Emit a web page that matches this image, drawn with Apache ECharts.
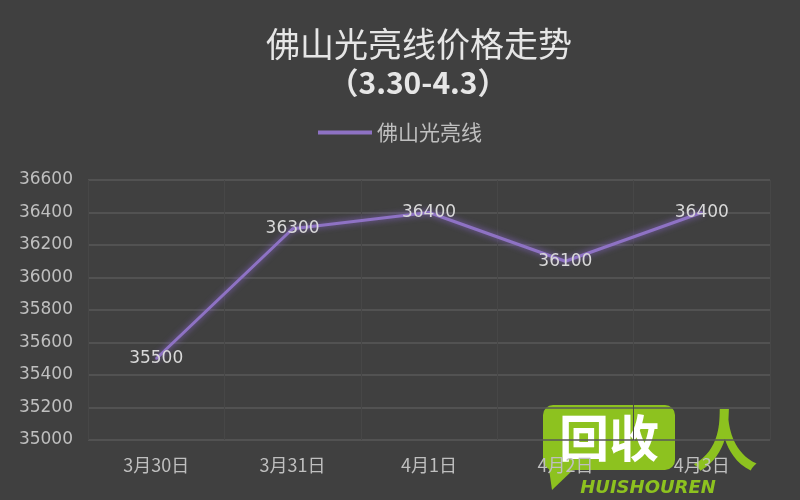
<!DOCTYPE html>
<html><head><meta charset="utf-8">
<script src="https://cdn.jsdelivr.net/npm/echarts@6/dist/echarts.min.js"></script>
<style>html,body{margin:0;padding:0;background:#404040}#c{width:800px;height:500px}</style>
</head><body><div id="c"></div>
<script>
const categories = ['3月30日', '3月31日', '4月1日', '4月2日', '4月3日'];
const prices = [35500, 36300, 36400, 36100, 36400];
const seriesName = '佛山光亮线';
const titleText = '佛山光亮线价格走势';
const subtitleText = '（3.30-4.3）';

const chart = echarts.init(document.getElementById('c'));
const font = '"Noto Sans CJK SC", sans-serif';
chart.setOption({
  backgroundColor: '#404040',
  title: [
    { text: titleText, left: 414, textAlign: 'center', top: 22, textStyle: { color: '#e6e6e6', fontSize: 34, fontWeight: 'normal', fontFamily: font } },
    { text: subtitleText, left: 413, textAlign: 'center', top: 63, textStyle: { color: '#e6e6e6', fontSize: 30, fontWeight: 'bold', fontFamily: font } }
  ],
  legend: {
    top: 117, left: 'center', itemWidth: 54, itemHeight: 4, itemGap: 8,
    textStyle: { color: '#bfbfbf', fontSize: 21, fontFamily: font },
    itemStyle: { color: '#8e72c4', opacity: 1 },
    data: [{ name: seriesName, icon: 'rect' }]
  },
  grid: { left: 88, right: 30, top: 180, bottom: 60 },
  xAxis: {
    type: 'category', data: categories, boundaryGap: true,
    axisLine: { show: false }, axisTick: { show: false },
    axisLabel: { color: '#bfbfbf', fontSize: 18, margin: 16, fontFamily: font },
    splitLine: { show: true, lineStyle: { color: '#474747', width: 1 } }
  },
  yAxis: {
    type: 'value', min: 35000, max: 36600, interval: 200,
    axisLine: { show: false }, axisTick: { show: false },
    axisLabel: { color: '#bfbfbf', fontSize: 17, margin: 15, fontFamily: '"DejaVu Sans", sans-serif', formatter: v => String(v) },
    splitLine: { lineStyle: { color: '#585858', width: 1.5 } }
  },
  series: [{
    name: seriesName, type: 'line', data: prices,
    symbol: 'circle', symbolSize: 2, showSymbol: true,
    lineStyle: { color: '#8e72c4', width: 3, shadowColor: 'rgba(150,110,230,0.8)', shadowBlur: 6 },
    itemStyle: { color: '#8e72c4' },
    label: { show: true, position: 'inside', color: '#d9d9d9', fontSize: 17, fontFamily: '"DejaVu Sans", sans-serif' }
  }],
  graphic: [
    { type: 'rect', shape: { x: 543, y: 405, width: 132, height: 65, r: 10 }, style: { fill: '#8dc21f' } },
    { type: 'polygon', shape: { points: [[548, 462], [552, 490], [575, 468]] }, style: { fill: '#8dc21f' } },
    { type: 'text', style: { x: 609, y: 438, text: '回收', fill: '#ffffff', fontSize: 50, fontWeight: 'bold', fontFamily: font, align: 'center', verticalAlign: 'middle' } },
    { type: 'text', style: { x: 725, y: 440, text: '人', fill: '#8dc21f', fontSize: 66, fontWeight: 'bold', fontFamily: font, align: 'center', verticalAlign: 'middle' } },
    { type: 'text', style: { x: 648, y: 488, text: 'HUISHOUREN', fill: '#8dc21f', fontSize: 18, fontWeight: 'bold', fontStyle: 'italic', fontFamily: '"DejaVu Sans", sans-serif', align: 'center', verticalAlign: 'middle' } }
  ]
});
</script></body></html>
